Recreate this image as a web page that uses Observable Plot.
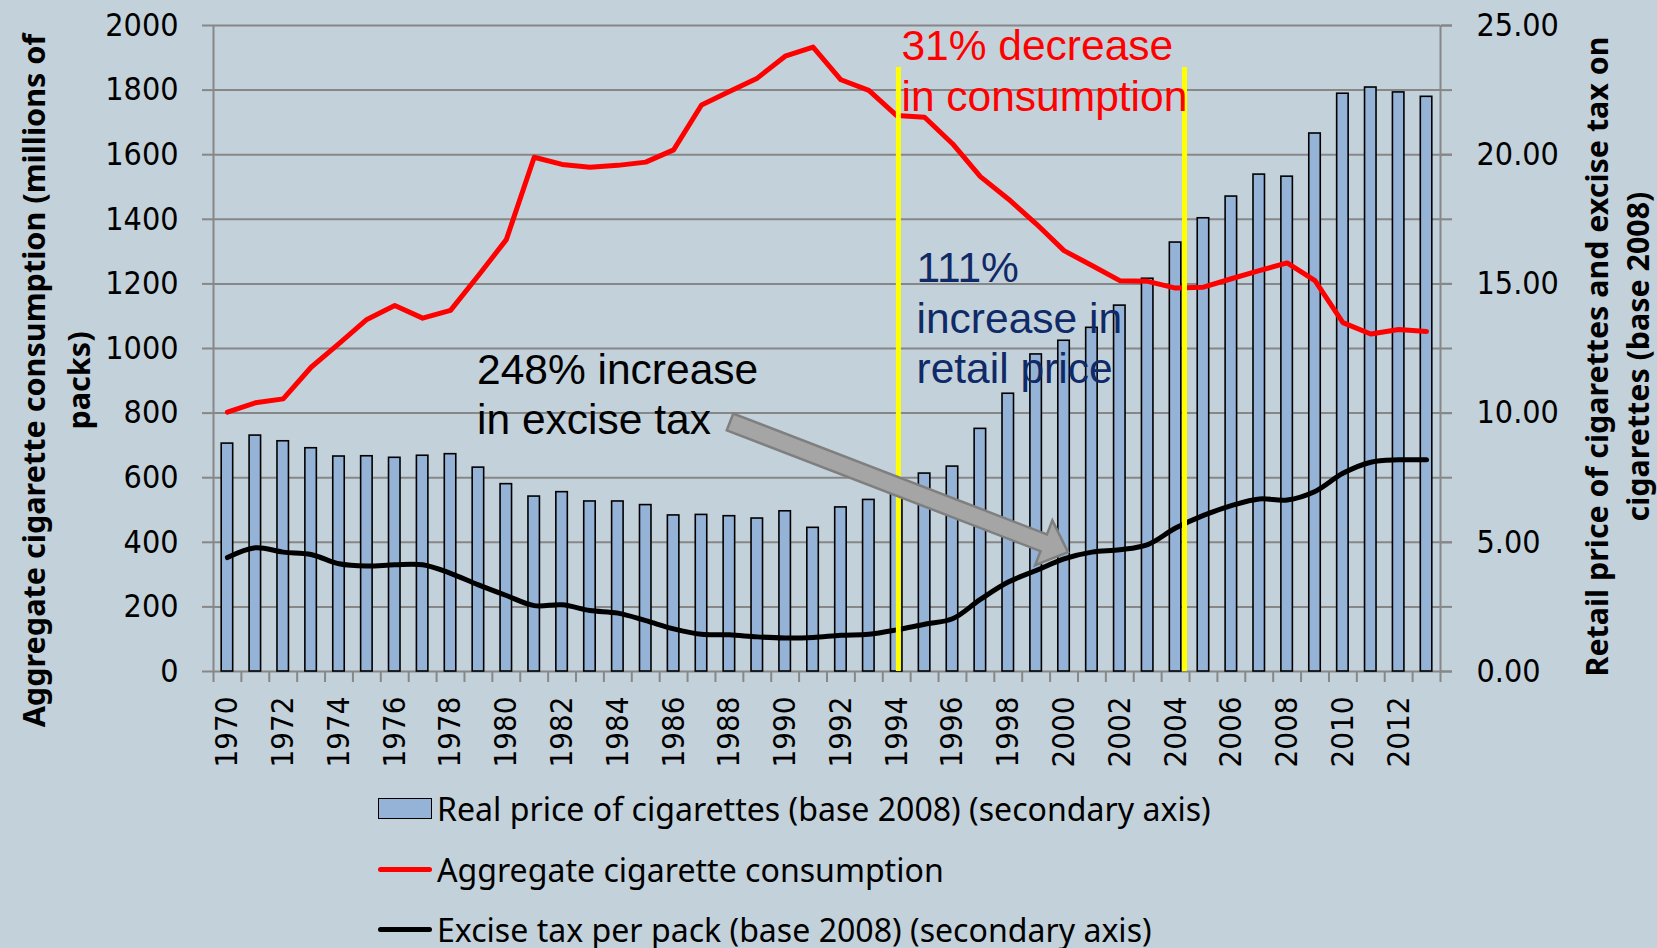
<!DOCTYPE html>
<html>
<head>
<meta charset="utf-8">
<script src="https://cdn.jsdelivr.net/npm/d3@7"></script>
<script src="https://cdn.jsdelivr.net/npm/@observablehq/plot@0.6"></script>
<style>
  html, body { margin: 0; padding: 0; background: #c3d1da; width: 1657px; height: 948px; overflow: hidden; }
  #chart { width: 1657px; height: 770px; }
  #legend { position: relative; width: 1657px; height: 178px; font-family: "Noto Sans", "Open Sans", sans-serif; font-size: 32.1px; color: #000; }
  .row { position: absolute; left: 378px; height: 40px; display: flex; align-items: center; white-space: nowrap; }
  .sw { width: 54px; margin-right: 5px; box-sizing: border-box; flex: none; }
  .box { height: 21px; background: #95b3d7; border: 1.5px solid #000; }
  .ln { height: 5px; border-radius: 3px; }
</style>
</head>
<body>
<div id="chart"></div>
<div id="legend"></div>
<script>
// ---- data ----
const years = [1970,1971,1972,1973,1974,1975,1976,1977,1978,1979,1980,1981,1982,1983,1984,1985,1986,1987,1988,1989,1990,1991,1992,1993,1994,1995,1996,1997,1998,1999,2000,2001,2002,2003,2004,2005,2006,2007,2008,2009,2010,2011,2012,2013];
const consumption = [803,832,844,942,1015,1090,1133,1094,1118,1226,1337,1592,1570,1561,1567,1577,1615,1754,1796,1837,1905,1933,1832,1799,1721,1716,1634,1532,1463,1386,1303,1257,1210,1208,1187,1190,1216,1241,1265,1210,1080,1045,1059,1053];
const realPrice = [8.82,9.13,8.91,8.64,8.32,8.33,8.27,8.35,8.41,7.89,7.25,6.77,6.94,6.58,6.58,6.44,6.04,6.06,6.01,5.92,6.20,5.56,6.35,6.64,7.10,7.66,7.93,9.39,10.75,12.27,12.80,13.30,14.16,15.20,16.60,17.54,18.38,19.23,19.15,20.82,22.36,22.60,22.41,22.24];
const exciseTax = [4.41,4.79,4.62,4.53,4.17,4.08,4.13,4.13,3.80,3.35,2.94,2.55,2.58,2.36,2.26,1.97,1.65,1.44,1.42,1.34,1.30,1.32,1.40,1.44,1.61,1.83,2.04,2.79,3.46,3.91,4.36,4.62,4.71,4.91,5.55,6.04,6.42,6.68,6.64,6.97,7.67,8.10,8.19,8.19];
const leftTicks = [0,200,400,600,800,1000,1200,1400,1600,1800,2000];
const rightTicks = [0,5,10,15,20,25];
const yearLabels = [1970,1972,1974,1976,1978,1980,1982,1984,1986,1988,1990,1992,1994,1996,1998,2000,2002,2004,2006,2008,2010,2012];
const leftTitle = "Aggregate cigarette consumption (millions of\npacks)";
const rightTitle = "Retail price of cigarettes and excise tax on\ncigarettes (base 2008)";
const periodMarks = [1994.06, 2004.32];      // yellow period lines (year)
const periodTop = 1870;                        // top of yellow lines (primary units)
const notes = [
  {text: "31% decrease\nin consumption", year: 1994.17, value: 2003, color: "#ff0000"},
  {text: "111%\nincrease in\nretail price", year: 1994.71, value: 1316, color: "#0f2a66"},
  {text: "248% increase\nin excise tax", year: 1978.95, value: 1002, color: "#000000"}
];
const arrowFrom = {year: 1988.04, value: 771};
const arrowTo = {year: 2000.16, value: 368};
const legendItems = [
  {label: "Real price of cigarettes (base 2008) (secondary axis)", kind: "box"},
  {label: "Aggregate cigarette consumption", kind: "line", color: "#ff0000"},
  {label: "Excise tax per pack (base 2008) (secondary axis)", kind: "line", color: "#000000"}
];

const primaryMax = 2000, secondaryMax = 25;
const k = primaryMax / secondaryMax;
const rows = years.map((y, i) => ({year: y, cons: consumption[i], price: realPrice[i], tax: exciseTax[i]}));
const boundaries = [...years.map(y => y - 0.5), years[years.length - 1] + 0.5];

const grid = "#878787";
const tickFont = "'DejaVu Sans Condensed', 'DejaVu Sans', sans-serif";
const titleFont = "'Noto Sans', 'Open Sans', sans-serif";
const noteSize = 42.5;

function blockArrow(index, scales) {
  const x = scales.x, y = scales.y;
  const x0 = x(arrowFrom.year), y0 = y(arrowFrom.value);
  const x1 = x(arrowTo.year), y1 = y(arrowTo.value);
  const L = Math.hypot(x1 - x0, y1 - y0);
  const ux = (x1 - x0) / L, uy = (y1 - y0) / L;
  const nx = -uy, ny = ux;
  const hw = 9, headW = 24, headL = 26;
  const bx = x1 - headL * ux, by = y1 - headL * uy;
  const pts = [
    [x0 + hw * nx, y0 + hw * ny],
    [bx + hw * nx, by + hw * ny],
    [bx + headW * nx, by + headW * ny],
    [x1, y1],
    [bx - headW * nx, by - headW * ny],
    [bx - hw * nx, by - hw * ny],
    [x0 - hw * nx, y0 - hw * ny]
  ];
  return d3.create("svg:path")
    .attr("d", "M" + pts.map(p => p.join(",")).join("L") + "Z")
    .attr("fill", "#a5a5a5")
    .attr("stroke", "#7f7f7f")
    .attr("stroke-width", 2.5)
    .attr("stroke-linejoin", "miter")
    .node();
}

const chart = Plot.plot({
  width: 1657,
  height: 770,
  marginLeft: 213,
  marginRight: 217,
  marginTop: 25,
  marginBottom: 99,
  style: {background: "transparent", color: "#000", overflow: "visible"},
  x: {type: "linear", domain: [boundaries[0], boundaries[boundaries.length - 1]], axis: null},
  y: {domain: [0, primaryMax], axis: null},
  marks: [
    Plot.gridY(leftTicks, {stroke: grid, strokeOpacity: 1, strokeWidth: 2}),
    Plot.axisY(leftTicks, {anchor: "left", tickSize: 11, tickPadding: 24, stroke: grid, strokeWidth: 2, fontSize: 32, fontFamily: tickFont, label: null,
      tickFormat: d => String(d)}),
    Plot.axisY(leftTicks, {anchor: "right", tickSize: 11, stroke: grid, strokeWidth: 2, tickFormat: () => "", label: null}),
    Plot.axisY(rightTicks.map(t => t * k), {anchor: "right", tickSize: 11, tickPadding: 25, stroke: grid, strokeWidth: 2, fontSize: 32, fontFamily: tickFont, label: null,
      tickFormat: d => (d / k).toFixed(2)}),
    Plot.axisX(boundaries, {tickSize: 11, stroke: grid, strokeWidth: 2, tickFormat: () => "", label: null}),
    Plot.axisX(yearLabels, {tickSize: 0, tickPadding: 25, tickRotate: -90, fontSize: 31, fontFamily: tickFont, tickFormat: d => String(d), label: null}),
    Plot.ruleX([boundaries[0], boundaries[boundaries.length - 1]], {stroke: grid, strokeWidth: 2}),
    Plot.rectY(rows, {x1: d => d.year - 0.5, x2: d => d.year + 0.5, y1: 0, y2: d => d.price * k,
      insetLeft: 8.2, insetRight: 8.2, fill: "#95b3d7", stroke: "#000", strokeWidth: 1.6}),
    Plot.lineY(rows, {x: "year", y: "cons", stroke: "#ff0000", strokeWidth: 5, strokeLinejoin: "round"}),
    Plot.lineY(rows, {x: "year", y: d => d.tax * k, stroke: "#000", strokeWidth: 5, curve: "catmull-rom", strokeLinecap: "round"}),
    Plot.ruleX(periodMarks, {y1: 0, y2: periodTop, stroke: "#ffff00", strokeWidth: 5}),
    blockArrow,
    Plot.text(notes, {x: "year", y: "value", text: "text", fill: "color", textAnchor: "start", lineAnchor: "top",
      fontSize: noteSize, lineHeight: 50.5 / noteSize, fontFamily: "'Liberation Sans', Arial, sans-serif"}),
    Plot.text([leftTitle], {frameAnchor: "left", dx: -160.5, dy: 32, rotate: -90, textAnchor: "middle", lineAnchor: "middle",
      fontSize: 30.6, fontWeight: "bold", lineHeight: 1.47, fontFamily: titleFont, fill: "#000"}),
    Plot.text([rightTitle], {frameAnchor: "right", dx: 174.5, dy: 8, rotate: -90, textAnchor: "middle", lineAnchor: "middle",
      fontSize: 30.4, fontWeight: "bold", lineHeight: 1.36, fontFamily: titleFont, fill: "#000"})
  ]
});
document.getElementById("chart").appendChild(chart);

// ---- legend (HTML, below the SVG) ----
const legend = d3.select("#legend");
const rowCenters = [38, 99, 159];
legendItems.forEach((it, i) => {
  const r = legend.append("div").attr("class", "row").style("top", (rowCenters[i] - 20) + "px");
  if (it.kind === "box") r.append("div").attr("class", "sw box");
  else r.append("div").attr("class", "sw ln").style("background", it.color);
  r.append("span").text(it.label);
});
</script>
</body>
</html>
